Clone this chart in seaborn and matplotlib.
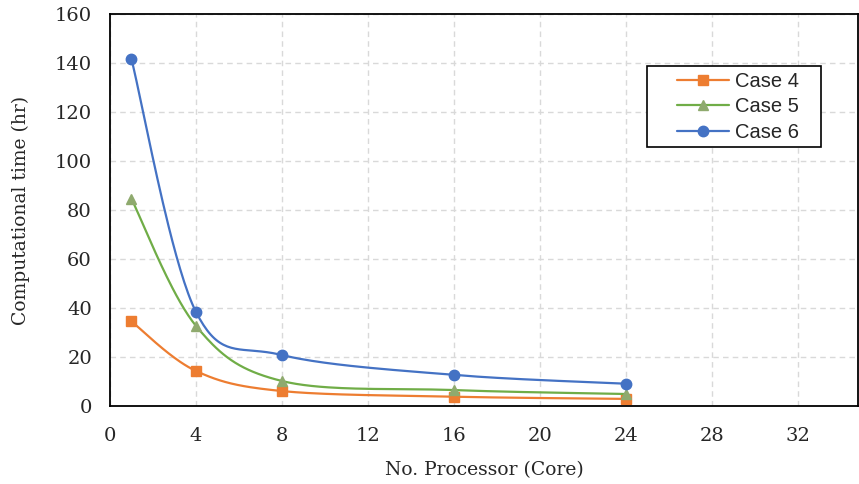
import numpy as np
import pandas as pd
import matplotlib
matplotlib.use("Agg")
import matplotlib.pyplot as plt
from matplotlib.patches import Rectangle
import seaborn as sns

# data
cores = [1, 4, 8, 16, 24]
case4 = [34.5, 14.3, 6.1, 3.8, 2.9]
case5 = [84.5, 32.7, 10.2, 6.5, 4.9]
case6 = [141.5, 38.4, 20.8, 12.7, 9.1]
labels = ["Case 4", "Case 5", "Case 6"]
colors = ["#ED7D31", "#70AD47", "#4472C4"]
markers = ["s", "^", "o"]
marker_faces = ["#ED7D31", "#8FAA6E", "#4472C4"]

sns.set_style("white")
plt.rcParams["font.family"] = ["DejaVu Serif"]


def smooth(x, y, n=40):
    # Catmull-Rom style smoothing like Excel's "smoothed line"
    x = np.asarray(x, float)
    y = np.asarray(y, float)
    px = np.concatenate([[x[0]], x, [x[-1]]])
    py = np.concatenate([[y[0]], y, [y[-1]]])
    xs, ys = [], []
    t = np.linspace(0, 1, n)
    for i in range(1, len(px) - 2):
        p0, p1, p2, p3 = [np.array([px[j], py[j]]) for j in (i - 1, i, i + 1, i + 2)]
        c1 = p1 + (p2 - p0) / 6
        c2 = p2 - (p3 - p1) / 6
        b = ((1 - t) ** 3)[:, None] * p1 + (3 * (1 - t) ** 2 * t)[:, None] * c1 \
            + (3 * (1 - t) * t ** 2)[:, None] * c2 + (t ** 3)[:, None] * p2
        xs.extend(b[:, 0])
        ys.extend(b[:, 1])
    return np.array(xs), np.array(ys)


fig = plt.figure(figsize=(8.59, 4.84), dpi=100)
ax = fig.add_axes([110 / 859, 78 / 484, 748 / 859, 392 / 484])

for vals, lab, col, mk, mf in zip([case4, case5, case6], labels, colors, markers, marker_faces):
    sx, sy = smooth(cores, vals)
    sm = pd.DataFrame({"x": sx, "y": sy})
    sns.lineplot(data=sm, x="x", y="y", ax=ax, color=col, lw=1.6, sort=False,
                 estimator=None, legend=False)
    pts = pd.DataFrame({"x": cores, "y": vals})
    ax.plot(pts["x"], pts["y"], linestyle="none", marker=mk, markersize=7.5,
            color=mf, markeredgecolor=mf)
    ax.plot([], [], color=col, lw=1.6, marker=mk, markersize=7.5,
            markerfacecolor=mf, markeredgecolor=mf, label=lab)

ax.set_xlim(0, 34.8)
ax.set_ylim(0, 160)
ax.set_xticks(range(0, 33, 4))
ax.set_yticks(range(0, 161, 20))
ax.grid(True, color="#D9D9D9", linestyle=(0, (4, 3)), lw=1)
for s in ax.spines.values():
    s.set_color("black")
    s.set_linewidth(1.3)
ax.tick_params(labelsize=14, length=0)
ax.tick_params(axis="y", pad=13)
ax.tick_params(axis="x", pad=15)
ax.set_xlabel("No. Processor (Core)", fontsize=13.5, labelpad=12)
ax.set_ylabel("Computational time (hr)", fontsize=13.5, labelpad=18)

# legend box drawn separately to get Excel-like inner padding
ax.add_patch(Rectangle((537 / 748, 259 / 392), 174 / 748, 81 / 392,
                       transform=ax.transAxes, facecolor="white",
                       edgecolor="black", lw=1.2, zorder=4))
leg = ax.legend(loc="center left", bbox_to_anchor=(567 / 748, 299 / 392),
                frameon=False, prop={"family": "Liberation Sans", "size": 14.5},
                handlelength=2.6, handletextpad=0.3, borderpad=0,
                labelspacing=0.33, borderaxespad=0)
leg.set_zorder(5)

fig.savefig("out.png", dpi=100)
